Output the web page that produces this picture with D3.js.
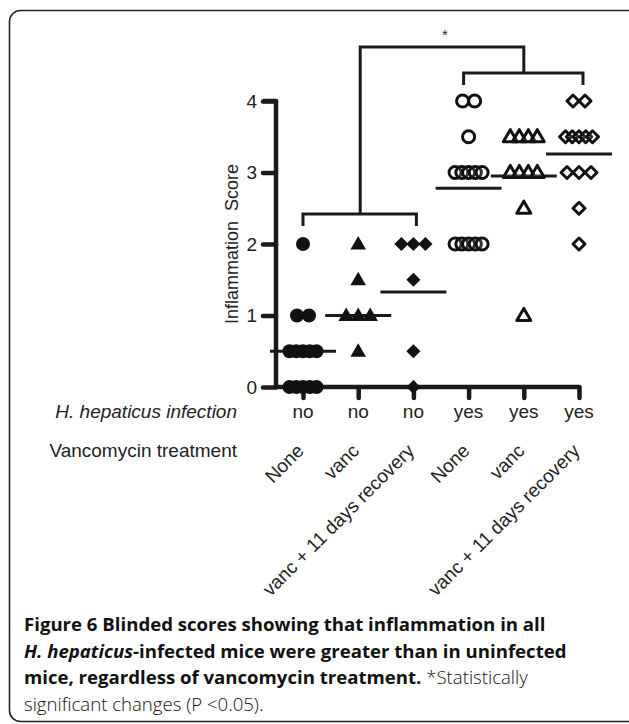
<!DOCTYPE html>
<html>
<head>
<meta charset="utf-8">
<script src="https://cdn.jsdelivr.net/npm/d3@7"></script>
<style>
  body { margin: 0; background: #fff; }
  svg { display: block; }
</style>
</head>
<body>
<script>
// groups along x
var infection = ["no", "no", "no", "yes", "yes", "yes"];
var treatment = ["None", "vanc", "vanc + 11 days recovery", "None", "vanc", "vanc + 11 days recovery"];
var markers = ["circle", "triangle", "diamond", "circle", "triangle", "diamond"];
var filled = [true, true, true, false, false, false];

// scores per group (repeats = stacked symbols)
var scoresNone = [0, 0, 0, 0, 0, 0.5, 0.5, 0.5, 0.5, 0.5, 1, 1, 2];
var scoresVanc = [0.5, 1, 1, 1, 1.5, 2];
var scoresVancRec = [0, 0.5, 1.5, 2, 2, 2];
var scoresHhNone = [2, 2, 2, 2, 2, 3, 3, 3, 3, 3, 3.5, 4, 4];
var scoresHhVanc = [1, 2.5, 3, 3, 3, 3, 3.5, 3.5, 3.5, 3.5];
var scoresHhVancRec = [2, 2.5, 3, 3, 3, 3.5, 3.5, 3.5, 3.5, 3.5, 4, 4];
var allScores = [scoresNone, scoresVanc, scoresVancRec, scoresHhNone, scoresHhVanc, scoresHhVancRec];

// group mean lines as drawn
var meanLines = [0.5, 1.0, 1.33, 2.78, 2.95, 3.26];

var yTicks = [0, 1, 2, 3, 4];

var width = 629,
    height = 724;

var svg = d3.select("body")
    .append("svg")
    .attr("width", width)
    .attr("height", height);

//frame round the figure
svg.append("rect")
    .attr("x", 9.5)
    .attr("y", 10.5)
    .attr("width", 660)
    .attr("height", 711)
    .attr("rx", 11)
    .attr("fill", "none")
    .attr("stroke", "#222")
    .attr("stroke-width", 1.6);

var x = d3.scalePoint()
    .domain(d3.range(6))
    .range([303, 579]);

var y = d3.scaleLinear()
    .domain([0, 4])
    .range([387, 101]);

var axisFont = "Liberation Sans, Arial, sans-serif";

//y axis
var yAxis = svg.append("g")
    .attr("transform", "translate(276,0)")
    .call(d3.axisLeft(y).tickValues(yTicks).tickSize(13).tickPadding(6).tickFormat(d3.format("d")));
yAxis.select(".domain")
    .attr("d", "M-13," + y(4) + "H0V" + y(0))
    .attr("stroke", "#1a1a1a")
    .attr("stroke-width", 4.5)
    .attr("fill", "none")
    .attr("stroke-linejoin", "round");
yAxis.selectAll(".tick line")
    .attr("stroke", "#1a1a1a")
    .attr("stroke-width", 4.5)
    .attr("stroke-linecap", "round");
yAxis.selectAll(".tick text")
    .attr("fill", "#222")
    .style("font-family", axisFont)
    .style("font-size", "19px");

//x axis
var xAxis = svg.append("g")
    .attr("transform", "translate(0," + y(0) + ")")
    .call(d3.axisBottom(x).tickSize(11).tickFormat(""));
xAxis.select(".domain")
    .attr("d", "M276,0H" + x(5))
    .attr("stroke", "#1a1a1a")
    .attr("stroke-width", 4.5);
xAxis.selectAll(".tick line")
    .attr("stroke", "#1a1a1a")
    .attr("stroke-width", 4.5)
    .attr("stroke-linecap", "round");

//y axis title
svg.append("text")
    .attr("transform", "translate(238," + ((y(0) + y(4)) / 2) + ") rotate(-90)")
    .attr("text-anchor", "middle")
    .style("font-family", axisFont)
    .style("font-size", "18px")
    .attr("fill", "#222")
    .style("white-space", "pre")
    .text("Inflammation  Score");

//mean lines
svg.selectAll(".mean")
    .data(meanLines)
    .enter()
    .append("line")
    .attr("class", "mean")
    .attr("x1", function(d, i) { return x(i) - 33; })
    .attr("x2", function(d, i) { return x(i) + 33; })
    .attr("y1", function(d) { return y(d); })
    .attr("y2", function(d) { return y(d); })
    .attr("stroke", "#1a1a1a")
    .attr("stroke-width", 3);

//symbols
var shapes = {
    circle: d3.symbolCircle,
    triangle: d3.symbolTriangle,
    diamond: d3.symbolSquare
};

//spread stacked scores sideways, like a column scatter
var points = [];
allScores.forEach(function(scores, g) {
    var counts = d3.rollup(scores, function(v) { return v.length; }, function(d) { return d; });
    var seen = new Map();
    scores.forEach(function(s) {
        var n = counts.get(s);
        var j = seen.get(s) || 0;
        seen.set(s, j + 1);
        var step = n > 1 ? Math.min(12, 27 / (n - 1)) : 0;
        points.push({ group: g, score: s, dx: (j - (n - 1) / 2) * step });
    });
});

svg.selectAll(".pt")
    .data(points)
    .enter()
    .append("path")
    .attr("class", "pt")
    .attr("transform", function(d) {
        var t = "translate(" + (x(d.group) + d.dx) + "," + y(d.score) + ")";
        if (markers[d.group] == "diamond") t += " rotate(45)";
        if (markers[d.group] == "triangle") t += " translate(0,1)";
        return t;
    })
    .attr("d", function(d) {
        var m = markers[d.group];
        var open = !filled[d.group];
        var size = m == "circle" ? (open ? 115 : 155) : m == "triangle" ? (open ? 85 : 105) : (open ? 72 : 100);
        return d3.symbol(shapes[m], size)();
    })
    .attr("fill", function(d) { return filled[d.group] ? "#111" : "#fff"; })
    .attr("fill-opacity", function(d) { return filled[d.group] ? 1 : 0.15; })
    .attr("stroke", "#111")
    .attr("stroke-width", function(d) { return filled[d.group] ? 0 : 3; })
    .attr("stroke-linejoin", "round");

//significance brackets
var bracket = svg.append("g")
    .attr("fill", "none")
    .attr("stroke", "#1a1a1a")
    .attr("stroke-width", 3);
var leftMid = (x(0) + x(2)) / 2 + 2,
    rightMid = (x(3) + x(5)) / 2;
bracket.append("path")
    .attr("d", "M" + x(0) + ",226V214H" + (x(2) + 3) + "V226");
bracket.append("path")
    .attr("d", "M" + (x(3) - 5) + ",85V73H" + (x(5) + 4) + "V85");
bracket.append("path")
    .attr("d", "M" + leftMid + ",214V47H" + rightMid + "V73");
svg.append("text")
    .attr("x", (leftMid + rightMid) / 2 + 3)
    .attr("y", 40)
    .attr("text-anchor", "middle")
    .style("font-family", axisFont)
    .style("font-size", "15px")
    .attr("fill", "#222")
    .text("*");

//row labels under the axis
svg.append("text")
    .attr("x", 237)
    .attr("y", 418)
    .attr("text-anchor", "end")
    .style("font-family", axisFont)
    .style("font-size", "19px")
    .style("font-style", "italic")
    .attr("fill", "#222")
    .text("H. hepaticus infection");
svg.append("text")
    .attr("x", 237)
    .attr("y", 457)
    .attr("text-anchor", "end")
    .style("font-family", axisFont)
    .style("font-size", "19px")
    .attr("fill", "#222")
    .text("Vancomycin treatment");

svg.selectAll(".inf")
    .data(infection)
    .enter()
    .append("text")
    .attr("class", "inf")
    .attr("x", function(d, i) { return x(i); })
    .attr("y", 418)
    .attr("text-anchor", "middle")
    .style("font-family", axisFont)
    .style("font-size", "19px")
    .attr("fill", "#222")
    .text(function(d) { return d; });

svg.selectAll(".trt")
    .data(treatment)
    .enter()
    .append("text")
    .attr("class", "trt")
    .attr("transform", function(d, i) { return "translate(" + (x(i) + 2) + ",452) rotate(-45)"; })
    .attr("text-anchor", "end")
    .style("font-family", axisFont)
    .style("font-size", "19px")
    .attr("fill", "#222")
    .text(function(d) { return d; });

//caption
var capFont = "'Open Sans', 'Noto Sans', sans-serif";
var caption = svg.append("text")
    .style("font-family", capFont)
    .style("font-size", "18.6px")
    .attr("fill", "#111");

var capLines = [
    [["Figure 6 Blinded scores showing that inflammation in all", 700, "normal"]],
    [["H. hepaticus", 700, "italic"], ["-infected mice were greater than in uninfected", 700, "normal"]],
    [["mice, regardless of vancomycin treatment.", 700, "normal"], [" *Statistically", 300, "normal"]],
    [["significant changes (P <0.05).", 300, "normal"]]
];
capLines.forEach(function(line, li) {
    line.forEach(function(part, pi) {
        var span = caption.append("tspan")
            .style("font-weight", part[1])
            .style("font-style", part[2])
            .style("white-space", "pre")
            .text(part[0]);
        if (pi == 0) span.attr("x", 24).attr("y", 631 + li * 26.7);
    });
});
</script>
</body>
</html>
